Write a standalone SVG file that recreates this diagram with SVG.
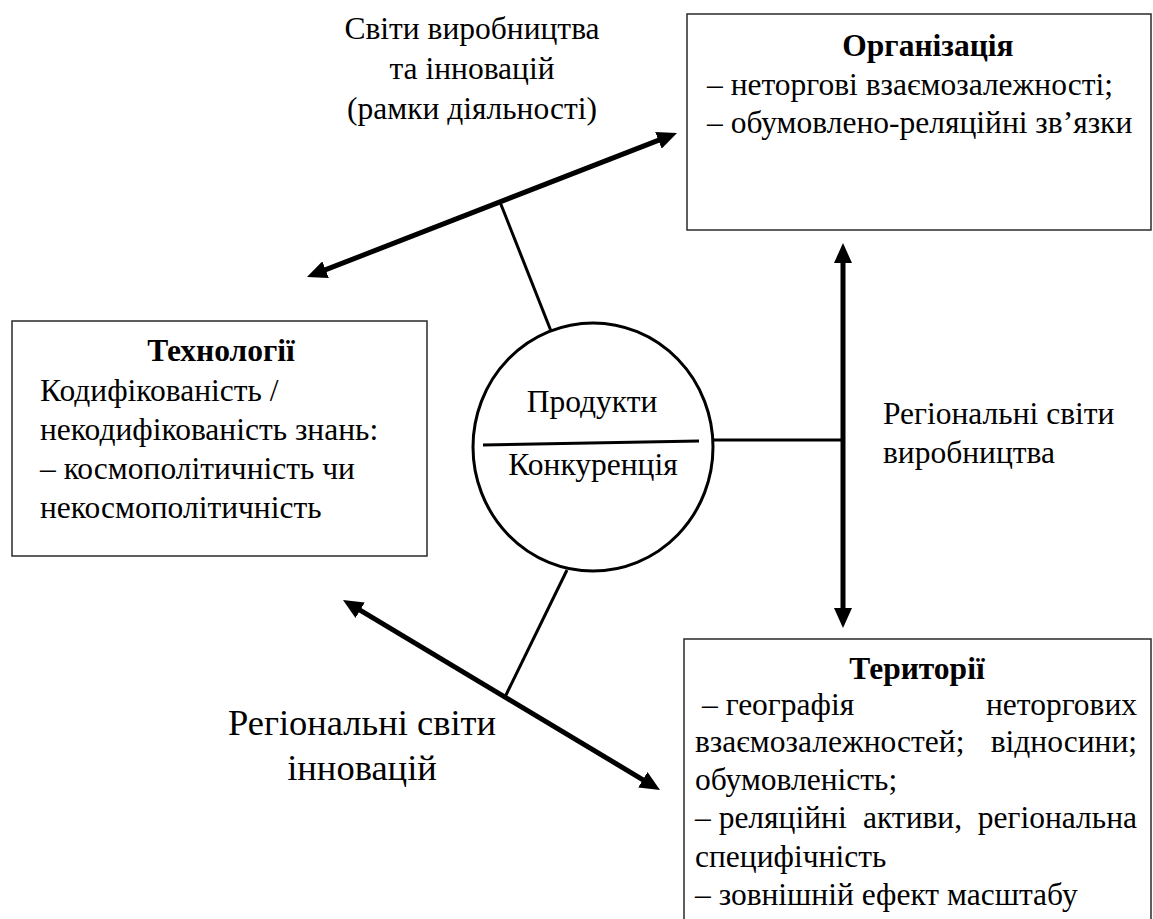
<svg xmlns="http://www.w3.org/2000/svg" width="1153" height="919" viewBox="0 0 1153 919">
  <style>
    text { font-family: "Liberation Serif", "Times New Roman", "DejaVu Serif", serif; fill: #000; }
    .t { font-size: 31.5px; }
    .big { font-size: 36.5px; }
    .b { font-weight: bold; }
    .box { fill: #fff; stroke: #2a2a2a; stroke-width: 1.5; }
    .arrow { stroke: #000; stroke-width: 5; fill: none; }
    .link { stroke: #000; stroke-width: 3; fill: none; }
  </style>
  <defs>
    <marker id="head" viewBox="0 0 20 18" refX="6" refY="9" markerWidth="20" markerHeight="18" markerUnits="userSpaceOnUse" orient="auto-start-reverse">
      <path d="M0,0 L20,9 L0,18 z" fill="#000"/>
    </marker>
  </defs>

  <rect width="1153" height="919" fill="#fff"/>

  <!-- connectors -->
  <g id="connectors">
    <line class="arrow" x1="320" y1="271.9" x2="664" y2="138.1" marker-start="url(#head)" marker-end="url(#head)"/>
    <line class="arrow" x1="355" y1="607.2" x2="648" y2="782.8" marker-start="url(#head)" marker-end="url(#head)"/>
    <line class="arrow" x1="843" y1="257" x2="843" y2="614" marker-start="url(#head)" marker-end="url(#head)"/>
    <line class="link" x1="500" y1="202" x2="551" y2="331"/>
    <line class="link" x1="713" y1="440" x2="843" y2="440"/>
    <line class="link" x1="505" y1="697" x2="567" y2="570"/>
  </g>

  <!-- arrow labels -->
  <g id="label-worlds" class="t" text-anchor="middle">
    <text x="472" y="39">Світи виробництва</text>
    <text x="472" y="79">та інновацій</text>
    <text x="472" y="119">(рамки діяльності)</text>
  </g>
  <g id="label-production" class="t">
    <text x="883" y="424">Регіональні світи</text>
    <text x="883" y="463">виробництва</text>
  </g>
  <g id="label-innovation" class="big" text-anchor="middle">
    <text x="362" y="735">Регіональні світи</text>
    <text x="362" y="780">інновацій</text>
  </g>

  <!-- central node -->
  <g id="products">
    <ellipse cx="593" cy="447" rx="120" ry="124" fill="#fff" stroke="#000" stroke-width="3"/>
    <line x1="483" y1="445" x2="699" y2="441" stroke="#000" stroke-width="3"/>
    <text class="t" x="592" y="412" text-anchor="middle">Продукти</text>
    <text class="t" x="593" y="475" text-anchor="middle">Конкуренція</text>
  </g>

  <!-- Organisation -->
  <g id="organization">
    <rect class="box" x="687" y="14" width="464" height="216"/>
    <text class="t b" x="928" y="56" text-anchor="middle">Організація</text>
    <text class="t" x="707" y="95">– неторгові взаємозалежності;</text>
    <text class="t" x="707" y="133">– обумовлено-реляційні зв’язки</text>
  </g>

  <!-- Technologies -->
  <g id="technologies">
    <rect class="box" x="12" y="321" width="415" height="235"/>
    <text class="t b" x="221" y="361" text-anchor="middle">Технології</text>
    <text class="t" x="40" y="401">Кодифікованість /</text>
    <text class="t" x="40" y="440">некодифікованість знань:</text>
    <text class="t" x="40" y="479">– космополітичність чи</text>
    <text class="t" x="40" y="518">некосмополітичність</text>
  </g>

  <!-- Territories -->
  <g id="territories">
    <rect class="box" x="684" y="639" width="467" height="300"/>
    <text class="t b" x="917" y="679" text-anchor="middle">Території</text>
    <text class="t" x="702" y="715">– географія</text>
    <text class="t" x="1137" y="715" text-anchor="end">неторгових</text>
    <text class="t" x="695" y="752">взаємозалежностей;</text>
    <text class="t" x="1137" y="752" text-anchor="end">відносини;</text>
    <text class="t" x="695" y="790">обумовленість;</text>
    <text class="t" x="695" y="828">– реляційні</text>
    <text class="t" x="863" y="828">активи,</text>
    <text class="t" x="1137" y="828" text-anchor="end">регіональна</text>
    <text class="t" x="695" y="867">специфічність</text>
    <text class="t" x="695" y="905">– зовнішній ефект масштабу</text>
  </g>
</svg>
